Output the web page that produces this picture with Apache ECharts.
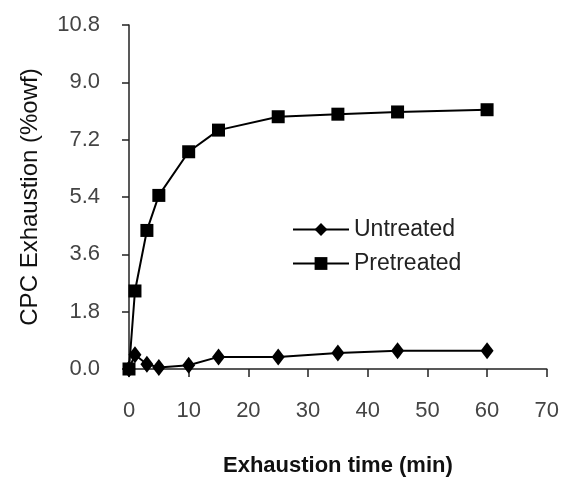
<!DOCTYPE html>
<html>
<head>
<meta charset="utf-8">
<script src="https://cdn.jsdelivr.net/npm/echarts@6/dist/echarts.min.js"></script>
<style>
  html, body { margin: 0; padding: 0; background: #fff; }
  #main { width: 562px; height: 482px; }
</style>
</head>
<body>
<div id="main"></div>
<script>
// exhaustion time (min)
const times = [0, 1, 3, 5, 10, 15, 25, 35, 45, 60];
// CPC exhaustion (%owf)
const untreated = [0.0, 0.45, 0.15, 0.05, 0.12, 0.38, 0.38, 0.5, 0.57, 0.57];
const pretreated = [0.0, 2.45, 4.35, 5.45, 6.82, 7.5, 7.92, 8.0, 8.07, 8.14];
const seriesNames = ['Untreated', 'Pretreated'];

const font = 'Liberation Sans, Arial, sans-serif';
const chart = echarts.init(document.getElementById('main'));

const pairs = (ys) => times.map((t, i) => [t, ys[i]]);

chart.setOption({
  animation: false,
  grid: { left: 129, right: 15, top: 25, bottom: 113 },
  legend: {
    left: 287, top: 213,
    orient: 'vertical',
    itemWidth: 56, itemHeight: 16, itemGap: 11,
    textStyle: { fontFamily: font, fontSize: 23, color: '#222' },
    data: seriesNames
  },
  xAxis: {
    type: 'value', min: 0, max: 70, interval: 10,
    name: 'Exhaustion time (min)', nameLocation: 'middle', nameGap: 86,
    nameTextStyle: { fontFamily: font, fontSize: 22, fontWeight: 'bold', color: '#111' },
    axisLine: { lineStyle: { color: '#222', width: 1.5 } },
    axisTick: { inside: false, length: 8, lineStyle: { color: '#222', width: 1.5 } },
    axisLabel: { margin: 31, fontFamily: font, fontSize: 22, color: '#444' },
    splitLine: { show: false }
  },
  yAxis: {
    type: 'value', min: 0, max: 10.8, interval: 1.8,
    name: 'CPC Exhaustion (%owf)', nameLocation: 'middle', nameGap: 87,
    nameTextStyle: { fontFamily: font, fontSize: 24, color: '#111' },
    axisLine: { show: true, lineStyle: { color: '#222', width: 1.5 } },
    axisTick: { show: true, length: 7, lineStyle: { color: '#222', width: 1.5 } },
    axisLabel: { margin: 29, fontFamily: font, fontSize: 22, color: '#444',
      formatter: (v) => v.toFixed(1) },
    splitLine: { show: false }
  },
  series: [
    {
      name: seriesNames[0], type: 'line', data: pairs(untreated),
      symbol: 'diamond', symbolSize: [13, 17],
      lineStyle: { color: '#000', width: 2 },
      itemStyle: { color: '#000' }
    },
    {
      name: seriesNames[1], type: 'line', data: pairs(pretreated),
      symbol: 'rect', symbolSize: 13,
      lineStyle: { color: '#000', width: 2 },
      itemStyle: { color: '#000' }
    }
  ]
});
</script>
</body>
</html>
